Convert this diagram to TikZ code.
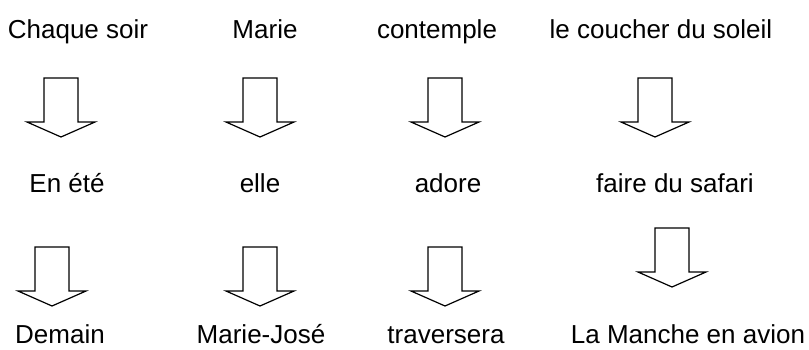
\documentclass[tikz,border=0pt]{standalone}
\usepackage{fontspec}
\setmainfont{Liberation Sans}
\begin{document}
\begin{tikzpicture}[x=1pt,y=-1pt,
  word/.style={anchor=base,inner sep=0pt,font=\fontsize{26}{30}\selectfont},
  lastword/.style={word,text depth=0pt},
  arrowline/.style={draw=black,line width=1.2pt,fill=white,line join=miter},
  blockarrow/.pic={
    \path[arrowline] (-17,0) -- (17,0) -- (17,44) -- (34,44) -- (0,59)
      -- (-34,44) -- (-17,44) -- cycle;
  }]
  \useasboundingbox (0,0) rectangle (809,349);

  % first sentence
  \node[word] (a1) at (78,38)  {Chaque soir};
  \node[word] (a2) at (265,38) {Marie};
  \node[word] (a3) at (437,38) {contemple};
  \node[word] (a4) at (661,38) {le coucher du soleil};

  % second sentence
  \node[word] (b1) at (67,192)  {En été};
  \node[word] (b2) at (260,192) {elle};
  \node[word] (b3) at (448,192) {adore};
  \node[word] (b4) at (675,192) {faire du safari};

  % third sentence
  \node[lastword] (c1) at (60,343.5)  {Demain};
  \node[lastword] (c2) at (261,343.5) {Marie-José};
  \node[lastword] (c3) at (446,343.5) {traversera};
  \node[lastword] (c4) at (688,343.5) {La Manche en avion};

  % hollow arrows between the rows
  \pic at (61,78)  {blockarrow};
  \pic at (260,78) {blockarrow};
  \pic at (445,78) {blockarrow};
  \pic at (655,78) {blockarrow};

  \pic at (52,247)  {blockarrow};
  \pic at (260,247) {blockarrow};
  \pic at (445,247) {blockarrow};
  \pic at (672,228) {blockarrow};
\end{tikzpicture}
\end{document}
